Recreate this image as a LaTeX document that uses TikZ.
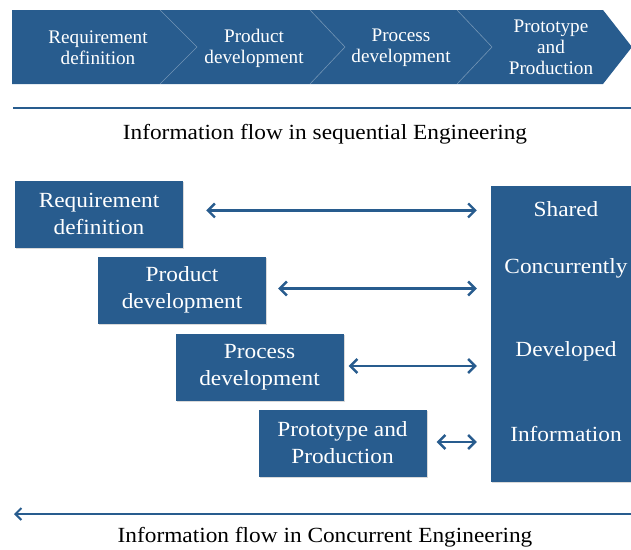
\documentclass[tikz,border=0pt]{standalone}
\usepackage{fontspec}
\setmainfont{Liberation Serif}[FakeStretch=1.08]
\newfontfamily\barfont{Liberation Serif}
\usetikzlibrary{arrows.meta,shadows}
\definecolor{ceblue}{RGB}{40,92,142}
\begin{document}
\begin{tikzpicture}[x=1pt,y=-1pt,
  phase/.style={fill=ceblue, text=white, align=center, inner sep=0pt,
    minimum width=168pt, minimum height=67pt,
    font=\fontsize{21.6}{27}\selectfont,
    drop shadow={shadow xshift=1.2pt, shadow yshift=-1.2pt, opacity=0.3}},
  barlabel/.style={text=white, align=center, inner sep=0pt,
    font=\barfont\fontsize{19.2}{21}\selectfont},
  infoword/.style={text=white, anchor=base, inner sep=0pt,
    font=\fontsize{21.6}{27}\selectfont},
  caption/.style={anchor=base, inner sep=0pt, font=\fontsize{21.6}{26}\selectfont},
  divider/.style={draw=white, draw opacity=0.35, line width=0.6pt},
  biarrow/.style={draw=ceblue, line width=2.4pt,
    {Straight Barb[length=7pt,width=14pt]}-{Straight Barb[length=7pt,width=14pt]}},
  rule/.style={draw=ceblue, line width=2pt},
  flowarrow/.style={rule, -{Straight Barb[length=6pt,width=12pt]}}]
\useasboundingbox (0,0) rectangle (631,549);

% sequential chevron bar
\fill[ceblue] (12,10) -- (603,10) -- (632,47) -- (603,84) -- (12,84) -- cycle;
\draw[divider] (160,10) -- (197,47) -- (160,84);
\draw[divider] (310,10) -- (345,47) -- (310,84);
\draw[divider] (457,10) -- (492,47) -- (457,84);
\node[barlabel] (s1) at (98,48) {Requirement\\definition};
\node[barlabel] (s2) at (254,48) {Product\\development};
\node[barlabel] (s3) at (401,48) {Process\\development};
\node[barlabel] (s4) at (551,47) {Prototype\\and\\Production};

\coordinate (ruleL) at (13,108);
\coordinate (ruleR) at (631,108);
\draw[rule] (ruleL) -- (ruleR);
\node[caption] (cap1) at (325,139) {Information flow in sequential Engineering};

% concurrent phases
\node[phase] (r1) at (99,214.4) {Requirement\\definition};
\node[phase] (r2) at (182,290) {Product\\development};
\node[phase] (r3) at (259.5,367) {Process\\development};
\node[phase] (r4) at (342.5,443) {Prototype and\\Production};

% shared information block
\node[phase, minimum width=150pt, minimum height=296pt] (big) at (566,333.5) {};
\node[infoword] (w1) at (566,216) {Shared};
\node[infoword] (w2) at (566,273) {Concurrently};
\node[infoword] (w3) at (566,356) {Developed};
\node[infoword] (w4) at (566,441.5) {Information};

\draw[biarrow] ([xshift=23pt,yshift=4pt]r1.east) -- ([xshift=-14pt,yshift=4pt]r1.east -| big.west);
\draw[biarrow] ([xshift=12pt,yshift=1.5pt]r2.east) -- ([xshift=-14pt,yshift=1.5pt]r2.east -| big.west);
\draw[biarrow] ([xshift=5pt,yshift=1pt]r3.east) -- ([xshift=-14pt,yshift=1pt]r3.east -| big.west);
\draw[biarrow] ([xshift=10pt,yshift=1pt]r4.east) -- ([xshift=-14pt,yshift=1pt]r4.east -| big.west);

\coordinate (flowR) at (631,514);
\coordinate (flowL) at (14,514);
\draw[flowarrow] (flowR) -- (flowL);
\node[caption] (cap2) at (325,542) {Information flow in Concurrent Engineering};
\end{tikzpicture}
\end{document}
